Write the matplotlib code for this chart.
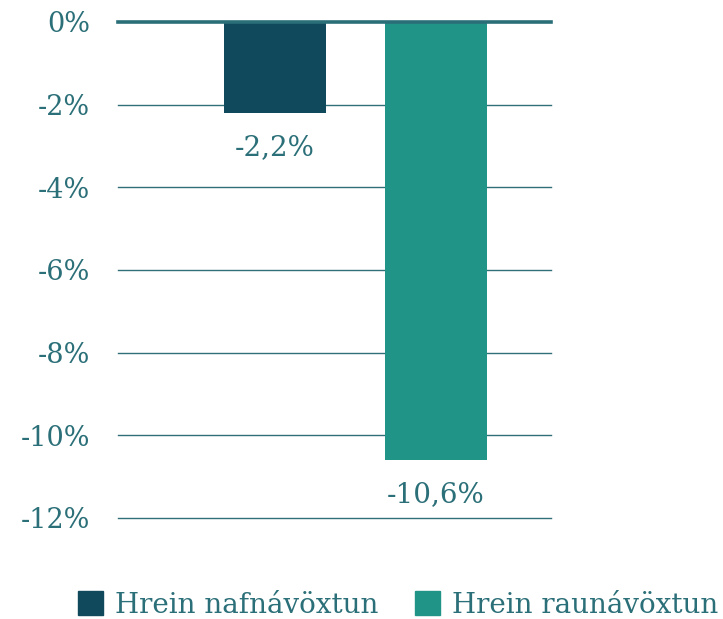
import matplotlib.pyplot as plt
import numpy as np

# data
series = ["Hrein nafnávöxtun", "Hrein raunávöxtun"]
values = [-2.2, -10.6]
labels = ["-2,2%", "-10,6%"]
yticks = [0, -2, -4, -6, -8, -10, -12]
colors = ["#10485c", "#219488"]
txt = "#2b6f78"

plt.rcParams['font.family'] = ['DejaVu Serif']

fig = plt.figure(figsize=(7.23, 6.19), dpi=100)
ax = fig.add_axes([0.1632, 0.1632, 0.599, 0.8013])

x = np.arange(len(values))
bars = ax.bar(x, values, width=0.634, color=colors, zorder=3)

for xi, v, lab in zip(x, values, labels):
        ax.annotate(lab, (xi, v), xytext=(0, -15), textcoords="offset points",
                    ha="center", va="top", fontsize=20, color=txt)

ax.set_xlim(-0.975, 1.714)
ax.set_ylim(-12, 0)
ax.set_yticks(yticks)
ax.set_yticklabels([str(t) + "%" for t in yticks])
ax.set_xticks([])
for t in yticks:
        if t == 0:
                ax.axhline(t, color="#2a6e78", lw=2.6, zorder=4, clip_on=False)
        else:
                ax.axhline(t, color="#2e6f78", lw=1.0, zorder=1, clip_on=False)
for s in ax.spines.values():
        s.set_visible(False)
ax.tick_params(axis="y", length=0, pad=20, labelsize=19.5, labelcolor=txt)

handles = [plt.Rectangle((0, 0), 1, 1, color=c) for c in colors]
fig.legend(handles, series, loc="center", bbox_to_anchor=(0.5505, 0.0226), ncol=2,
           frameon=False, fontsize=20, labelcolor=txt, handlelength=0.9,
           handleheight=0.93, handletextpad=0.43, columnspacing=1.33,
           borderpad=0, borderaxespad=0)

fig.savefig("out.png", dpi=100)
